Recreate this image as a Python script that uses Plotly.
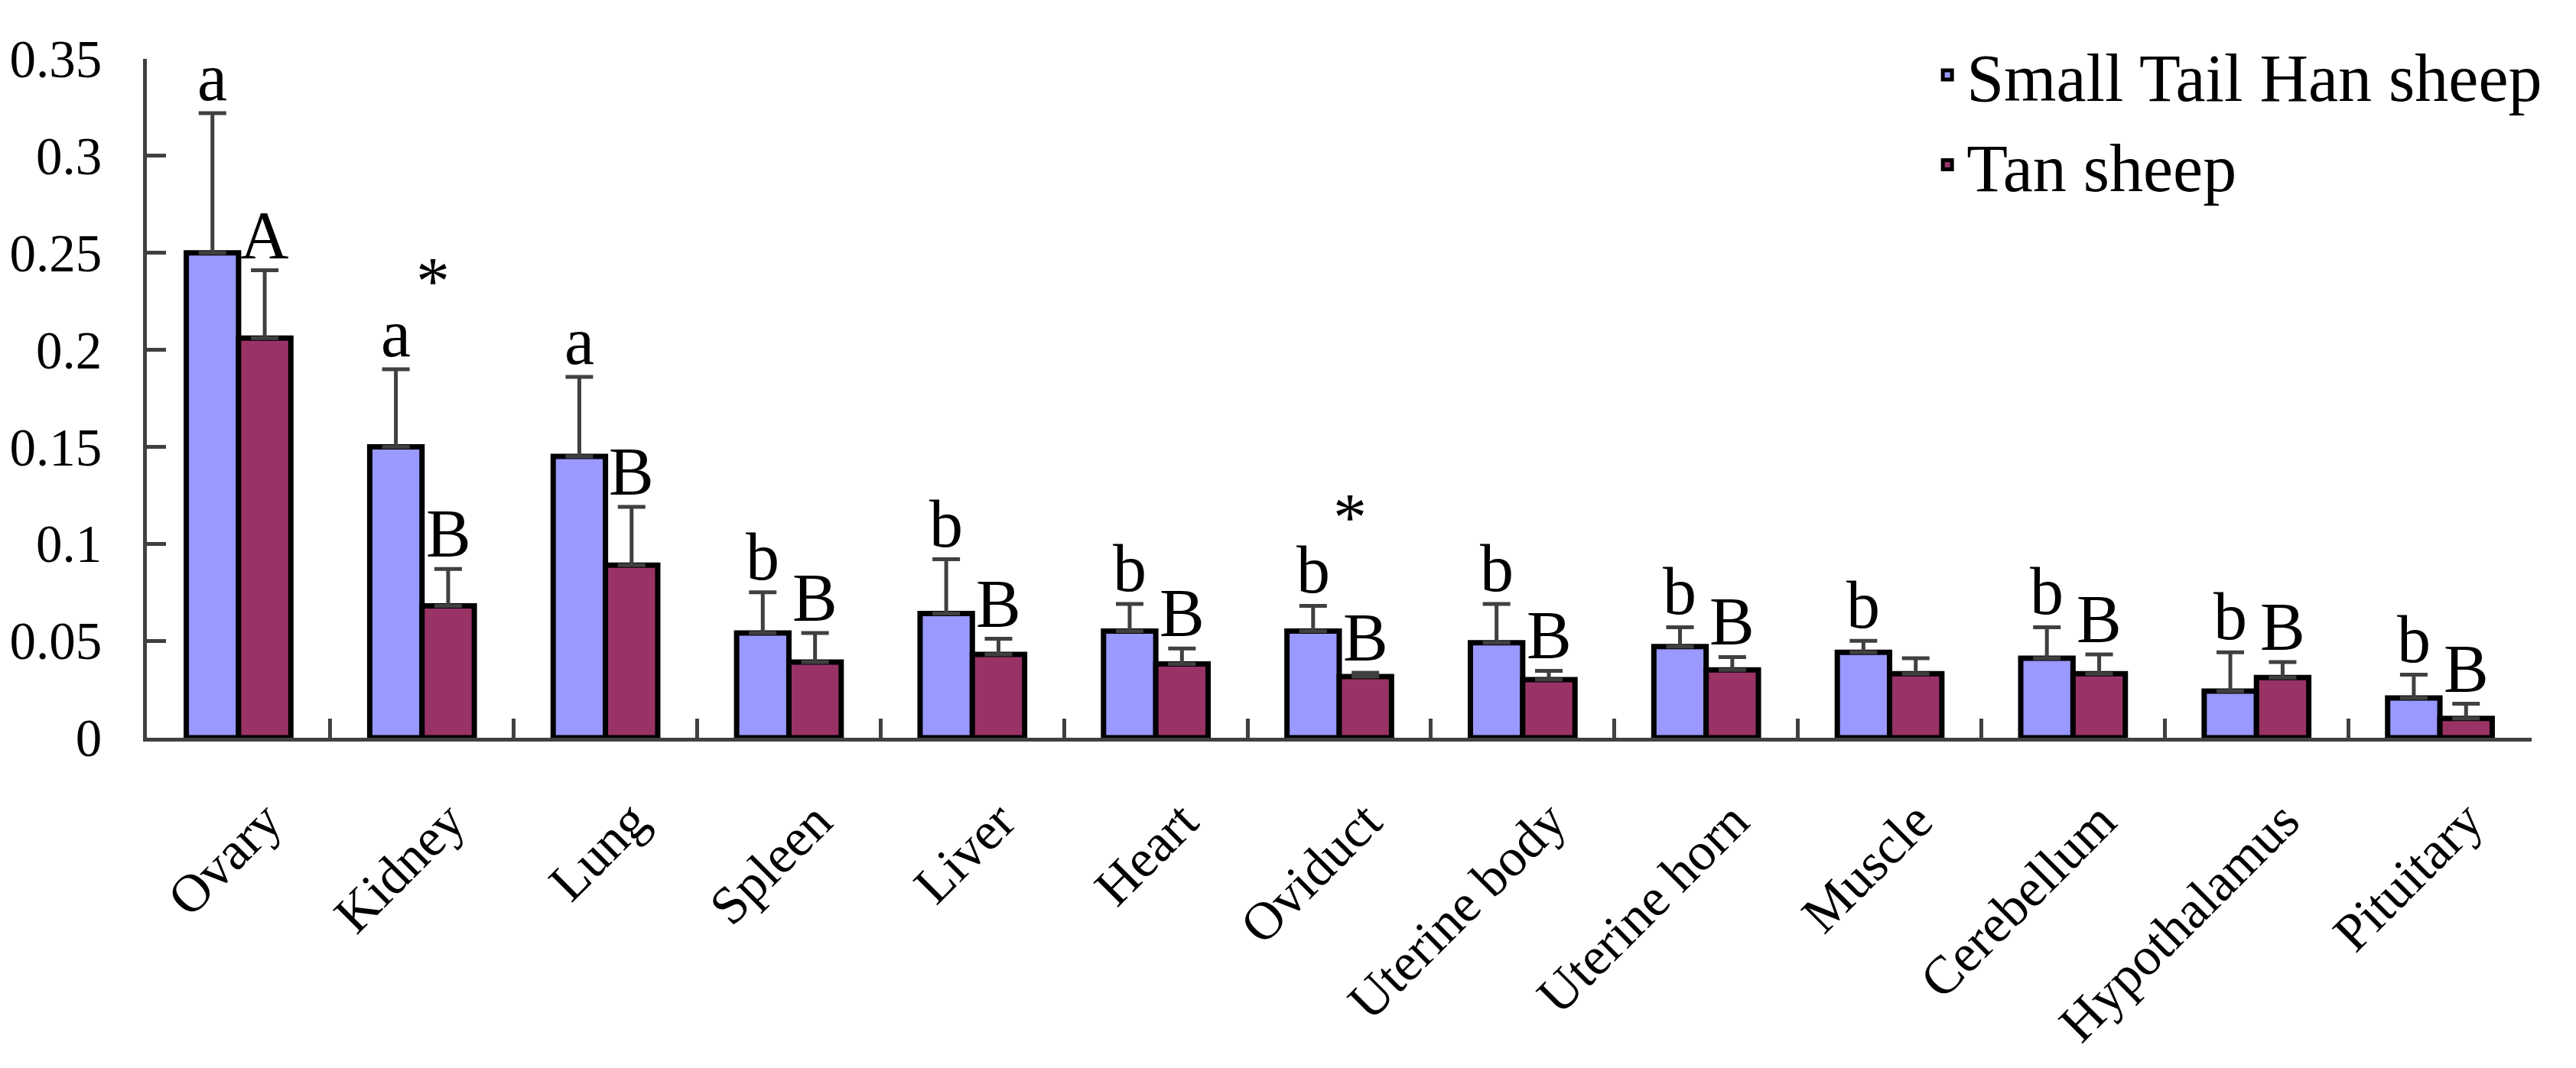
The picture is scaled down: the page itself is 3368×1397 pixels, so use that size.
import plotly.graph_objects as go

categories = ["Ovary", "Kidney", "Lung", "Spleen", "Liver", "Heart", "Oviduct",
              "Uterine body", "Uterine horn", "Muscle", "Cerebellum",
              "Hypothalamus", "Pituitary"]

sth_mean = [0.250, 0.150, 0.145, 0.054, 0.064, 0.055, 0.055, 0.049, 0.047, 0.044, 0.041, 0.024, 0.0205]
sth_se = [0.072, 0.040, 0.041, 0.021, 0.028, 0.014, 0.013, 0.020, 0.010, 0.006, 0.016, 0.020, 0.012]
tan_mean = [0.206, 0.068, 0.089, 0.039, 0.043, 0.038, 0.0315, 0.030, 0.035, 0.033, 0.033, 0.031, 0.010]
tan_se = [0.035, 0.019, 0.030, 0.015, 0.008, 0.008, 0.002, 0.0045, 0.0066, 0.008, 0.010, 0.008, 0.0075]

sth_letters = ["a", "a", "a", "b", "b", "b", "b", "b", "b", "b", "b", "b", "b"]
tan_letters = ["A", "B", "B", "B", "B", "B", "B", "B", "B", "", "B", "B", "B"]
significance = ["", "*", "", "", "", "", "*", "", "", "", "", "", ""]

y_tick_values = [0, 0.05, 0.1, 0.15, 0.2, 0.25, 0.3, 0.35]
y_tick_labels = ["0", "0.05", "0.1", "0.15", "0.2", "0.25", "0.3", "0.35"]

series_names = ["Small Tail Han sheep", "Tan sheep"]

# ---- styling / layout ----
W, H = 3368, 1397
ML, MR, MT, MB = 187, 58, 77, 432
BARGAP = 0.43
FONT = "Liberation Serif, Times New Roman, serif"
AXIS_COLOR = "#404040"

plot_w = W - ML - MR
cat_w = plot_w / len(categories)
bar_w = cat_w * (1 - BARGAP) / 2
offset = bar_w / 2

fig = go.Figure()
fig.add_trace(go.Bar(
    name=series_names[0], x=categories, y=sth_mean,
    marker=dict(color="#9999FF", line=dict(color="black", width=7)),
    error_y=dict(type="data", array=sth_se, arrayminus=[0] * len(sth_se),
                 symmetric=False, color=AXIS_COLOR, thickness=5, width=18),
))
fig.add_trace(go.Bar(
    name=series_names[1], x=categories, y=tan_mean,
    marker=dict(color="#993366", line=dict(color="black", width=7)),
    error_y=dict(type="data", array=tan_se, arrayminus=[0] * len(tan_se),
                 symmetric=False, color=AXIS_COLOR, thickness=5, width=18),
))

letter_font = dict(family=FONT, size=88, color="black")
label_font = dict(family=FONT, size=70, color="black")
for i, cat in enumerate(categories):
    if sth_letters[i]:
        fig.add_annotation(x=cat, y=sth_mean[i] + sth_se[i], text=sth_letters[i],
                           showarrow=False, yanchor="bottom", xshift=-offset,
                           yshift=-4, font=letter_font)
    if tan_letters[i]:
        fig.add_annotation(x=cat, y=tan_mean[i] + tan_se[i], text=tan_letters[i],
                           showarrow=False, yanchor="bottom", xshift=offset,
                           yshift=-4, font=letter_font)
    if significance[i]:
        fig.add_annotation(x=cat, y=sth_mean[i] + sth_se[i], text=significance[i],
                           showarrow=False, yanchor="bottom", xshift=14,
                           yshift=65, font=letter_font)
    # category label, rotated, hanging below the axis
    fig.add_annotation(x=cat, y=0, yref="y", text=cat, textangle=-45,
                       showarrow=False, xanchor="right", yanchor="top",
                       xshift=72, yshift=-68, borderpad=0, font=label_font)

fig.update_layout(
    width=W, height=H,
    margin=dict(l=ML, r=MR, t=MT, b=MB, pad=0),
    paper_bgcolor="white", plot_bgcolor="white",
    barmode="group", bargap=BARGAP, bargroupgap=0,
    font=dict(family=FONT, color="black"),
    showlegend=True,
    legend=dict(x=0.747, y=1.048, xanchor="left", yanchor="top",
                font=dict(family=FONT, size=88, color="black"),
                bgcolor="rgba(0,0,0,0)", itemwidth=40, tracegroupgap=0),
)
fig.update_xaxes(
    type="category", showline=True, linecolor=AXIS_COLOR, linewidth=5,
    tickson="boundaries", ticks="inside", ticklen=25, tickwidth=5,
    tickcolor=AXIS_COLOR, showticklabels=False, showgrid=False,
)
fig.update_yaxes(
    range=[0, 0.35], tickvals=y_tick_values, ticktext=y_tick_labels,
    showline=True, linecolor=AXIS_COLOR, linewidth=5,
    ticks="inside", ticklen=25, tickwidth=5, tickcolor=AXIS_COLOR,
    ticklabelstandoff=40, showgrid=False, zeroline=False,
    tickfont=dict(family=FONT, size=69, color="black"),
)

fig.write_html("out.html", config={"displayModeBar": False},
               post_script="document.body.style.margin='0';document.body.style.overflow='hidden';")
